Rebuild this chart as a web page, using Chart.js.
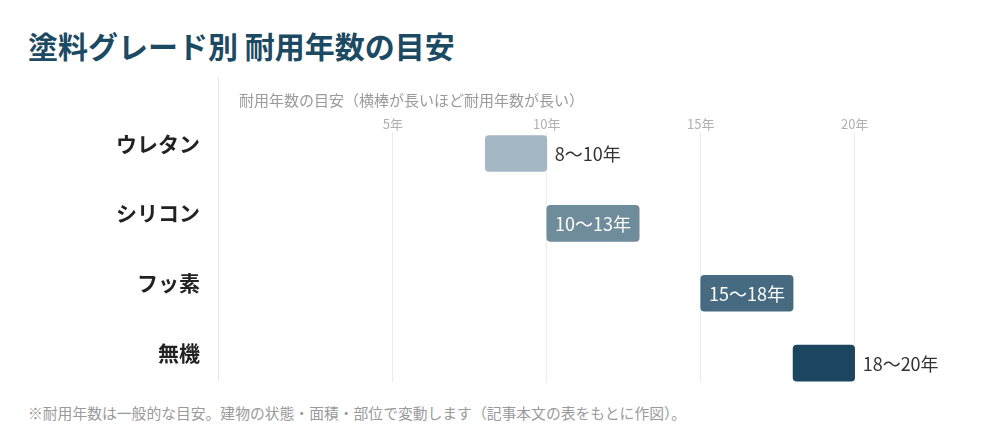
<!DOCTYPE html>
<html lang="ja">
<head>
<meta charset="utf-8">
<title>塗料グレード別 耐用年数の目安</title>
<script src="https://cdn.jsdelivr.net/npm/chart.js@4"></script>
<style>
  body { margin: 0; background: #fff; font-family: "Noto Sans CJK JP", "Noto Sans", sans-serif; }
  #wrap { position: relative; width: 1000px; height: 440px; overflow: hidden; }
  #title { position: absolute; left: 28px; top: 25px; margin: 0; font-size: 30px; font-weight: bold; color: #1d4a63; line-height: 40px; }
  #chartbox { position: absolute; left: 0; top: 70px; width: 1000px; height: 330px; }
  #note { position: absolute; left: 28px; top: 402px; margin: 0; font-size: 14.8px; color: #9a9a9a; line-height: 22px; }
</style>
</head>
<body>
<div id="wrap">
  <h1 id="title">塗料グレード別 耐用年数の目安</h1>
  <div id="chartbox"><canvas id="paintchart"></canvas></div>
  <p id="note">※耐用年数は一般的な目安。建物の状態・面積・部位で変動します（記事本文の表をもとに作図）。</p>
</div>
<script>
// data
var grades = ["ウレタン", "シリコン", "フッ素", "無機"];
var yearsFrom = [8, 10, 15, 18];
var yearsTo = [10, 13, 18, 20];
var xTicks = [5, 10, 15, 20];

var barColors = ["#a3b8c4", "#6f8c9b", "#466a80", "#1c4560"];
var fontFamily = '"Noto Sans CJK JP", "Noto Sans", sans-serif';

var points = grades.map(function (g, i) {
    return { x: [yearsFrom[i], yearsTo[i]], y: i };
});

// left divider line next to the grade names
var dividerPlugin = {
    id: 'divider',
    beforeDatasetsDraw: function (chart) {
        var ctx = chart.ctx;
        var x = chart.chartArea.left - 20.5;
        ctx.save();
        ctx.strokeStyle = '#e6e6e6';
        ctx.lineWidth = 1;
        ctx.beginPath();
        ctx.moveTo(x, 8);
        ctx.lineTo(x, chart.chartArea.bottom);
        ctx.stroke();
        ctx.restore();
    }
};

// "8〜10年" labels, inside the bar when it fits
var rangeLabels = {
    id: 'rangeLabels',
    afterDatasetsDraw: function (chart) {
        var ctx = chart.ctx;
        var meta = chart.getDatasetMeta(0);
        ctx.save();
        ctx.font = '18px ' + fontFamily;
        ctx.textBaseline = 'middle';
        meta.data.forEach(function (bar, i) {
            var p = bar.getProps(['x', 'y', 'base'], true);
            var text = yearsFrom[i] + '〜' + yearsTo[i] + '年';
            var w = ctx.measureText(text).width;
            var barW = Math.abs(p.x - p.base);
            if (w + 14 <= barW) {
                ctx.fillStyle = '#ffffff';
                ctx.textAlign = 'center';
                ctx.fillText(text, (p.x + p.base) / 2, p.y + 1);
            } else {
                ctx.fillStyle = '#333333';
                ctx.textAlign = 'left';
                ctx.fillText(text, Math.max(p.x, p.base) + 8, p.y + 1);
            }
        });
        ctx.restore();
    }
};

new Chart(document.getElementById('paintchart'), {
    type: 'bar',
    data: {
        datasets: [{
            data: points,
            backgroundColor: barColors,
            borderRadius: 4,
            borderSkipped: false,
            barThickness: 36
        }]
    },
    options: {
        indexAxis: 'y',
        responsive: true,
        maintainAspectRatio: false,
        animation: false,
        layout: { padding: { top: 21, right: 53, bottom: 18, left: 0 } },
        plugins: {
            legend: { display: false },
            tooltip: { enabled: false }
        },
        scales: {
            x: {
                type: 'linear',
                position: 'top',
                min: 0,
                max: 23,
                afterBuildTicks: function (axis) {
                    axis.ticks = xTicks.map(function (v) { return { value: v }; });
                },
                ticks: {
                    padding: 0,
                    color: '#b0b0b0',
                    font: { family: fontFamily, size: 13 },
                    callback: function (v) { return v + '年'; }
                },
                grid: { color: '#ececec', drawTicks: false },
                border: { display: false },
                title: {
                    display: true,
                    text: '耐用年数の目安（横棒が長いほど耐用年数が長い）',
                    align: 'start',
                    color: '#9a9a9a',
                    font: { family: fontFamily, size: 15 },
                    padding: { top: 0, bottom: 7 }
                }
            },
            y: {
                type: 'linear',
                offset: false,
                reverse: true,
                min: -0.314,
                max: 3.271,
                afterBuildTicks: function (axis) {
                    axis.ticks = grades.map(function (g, i) { return { value: i }; });
                },
                afterFit: function (axis) {
                    axis.width = 239;
                    axis.paddingTop = 0;
                    axis.paddingBottom = 0;
                },
                ticks: {
                    padding: 31,
                    labelOffset: -10,
                    color: '#222222',
                    font: { family: fontFamily, size: 21, weight: 'bold' },
                    callback: function (v) { return grades[v]; }
                },
                grid: { display: false },
                border: { display: false }
            }
        }
    },
    plugins: [dividerPlugin, rangeLabels]
});
</script>
</body>
</html>
